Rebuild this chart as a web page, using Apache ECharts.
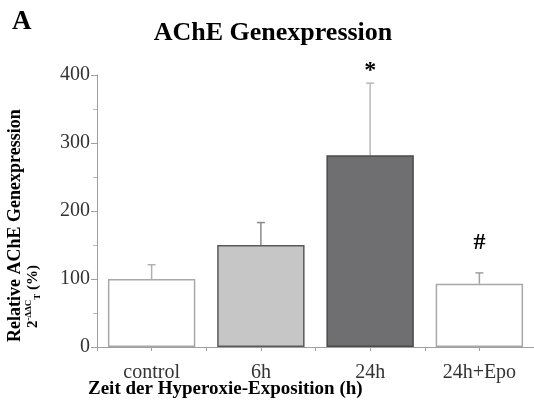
<!DOCTYPE html>
<html><head><meta charset="utf-8">
<script src="https://cdn.jsdelivr.net/npm/echarts@6/dist/echarts.min.js"></script>
<style>html,body{margin:0;padding:0;background:#fff}#c{width:534px;height:403px}</style>
</head><body><div id="c"></div>
<script>
const categories = ['control', '6h', '24h', '24h+Epo'];
const values = [100, 150, 282, 93];
const errors = [21, 33, 106, 16];
const annotations = ['', '', '*', '#'];
const yTicks = [0, 100, 200, 300, 400];

const fills = ['#ffffff', '#c6c6c6', '#6f6e71', '#ffffff'];
const borders = ['#a8a8a8', '#5a5a5a', '#4a4a4a', '#a8a8a8'];
const errColors = ['#b0b0b0', '#8a8a8a', '#b8b8b8', '#a0a0a0'];
const annotGap = [0, 0, 0, 18];
const serif = 'Liberation Serif';

const chart = echarts.init(document.getElementById('c'));
chart.setOption({
  animation: false,
  backgroundColor: '#fff',
  title: {
    text: 'AChE Genexpression', left: 268, top: 15, textAlign: 'center',
    textStyle: {fontFamily: serif, fontWeight: 'bold', fontSize: 26, color: '#000'}
  },
  graphic: [
    {type: 'text', left: 12, top: 9, style: {text: 'A', fontFamily: serif, fontWeight: 'bold', fontSize: 27, fill: '#000'}},
    {type: 'text', left: 88, top: 380, style: {text: 'Zeit der Hyperoxie-Exposition (h)', fontFamily: serif, fontWeight: 'bold', fontSize: 19, fill: '#000'}},
    {type: 'text', x: 15, y: 342, rotation: Math.PI / 2,
      style: {text: 'Relative AChE Genexpression', fontFamily: serif, fontWeight: 'bold', fontSize: 18, fill: '#000', align: 'left', verticalAlign: 'middle'}},
    {type: 'text', x: 33, y: 328, rotation: Math.PI / 2,
      style: {
        text: '{n|2}{sup|-ΔΔC}{sub|T}{n| (%)}', align: 'left', verticalAlign: 'middle',
        fontFamily: serif, fontWeight: 'bold', fill: '#000',
        rich: {
          n: {fontFamily: serif, fontWeight: 'bold', fontSize: 15, lineHeight: 18, verticalAlign: 'middle'},
          sup: {fontFamily: serif, fontWeight: 'bold', fontSize: 9, lineHeight: 18, verticalAlign: 'top'},
          sub: {fontFamily: serif, fontWeight: 'bold', fontSize: 9, lineHeight: 16, verticalAlign: 'bottom'}
        }
      }}
  ],
  grid: {left: 97, right: 0, top: 75, bottom: 56},
  xAxis: [{
    type: 'category', data: categories,
    axisLine: {lineStyle: {color: '#a0a0a0', width: 1}},
    axisTick: {show: false},
    axisLabel: {fontFamily: serif, fontSize: 20, color: '#333', margin: 16}
  }, {
    type: 'value', min: 0, max: 8, interval: 1, position: 'bottom',
    axisLine: {show: false},
    axisTick: {show: true, length: 4, lineStyle: {color: '#a0a0a0'}},
    axisLabel: {show: false}, splitLine: {show: false}
  }],
  yAxis: {
    type: 'value', min: yTicks[0], max: yTicks[yTicks.length - 1], interval: 100,
    axisLine: {show: true, lineStyle: {color: '#a0a0a0', width: 1}},
    axisTick: {show: true, length: 6, lineStyle: {color: '#a0a0a0'}},
    minorTick: {show: true, splitNumber: 2, length: 4, lineStyle: {color: '#b8b8b8'}},
    splitLine: {show: false},
    axisLabel: {fontFamily: serif, fontSize: 20, color: '#333', margin: 7}
  },
  series: [{
    type: 'custom', xAxisIndex: 0, z: 1,
    data: categories.map((c, i) => [i, values[i], errors[i]]),
    renderItem: (params, api) => {
      const i = api.value(0);
      const b = api.coord([i, api.value(1)]);
      const t = api.coord([i, api.value(1) + api.value(2)]);
      const st = {stroke: errColors[i], lineWidth: 1.5};
      return {type: 'group', children: [
        {type: 'line', shape: {x1: b[0], y1: b[1], x2: t[0], y2: t[1]}, style: st},
        {type: 'line', shape: {x1: t[0] - 4, y1: t[1], x2: t[0] + 4, y2: t[1]}, style: st}
      ]};
    }
  }, {
    type: 'bar', xAxisIndex: 0, z: 2, barWidth: '80%',
    data: values.map((v, i) => ({value: v, itemStyle: {color: fills[i], borderColor: borders[i], borderWidth: 1.5}}))
  }, {
    type: 'custom', xAxisIndex: 0, z: 3,
    data: categories.map((c, i) => [i, values[i] + errors[i]]),
    renderItem: (params, api) => {
      const i = api.value(0);
      const p = api.coord([i, api.value(1)]);
      return {type: 'text', x: p[0], y: p[1] - annotGap[i],
        style: {text: annotations[i], fontFamily: serif, fontWeight: 'bold', fontSize: 24, fill: '#000', align: 'center', verticalAlign: 'bottom'}};
    }
  }]
});
</script></body></html>
